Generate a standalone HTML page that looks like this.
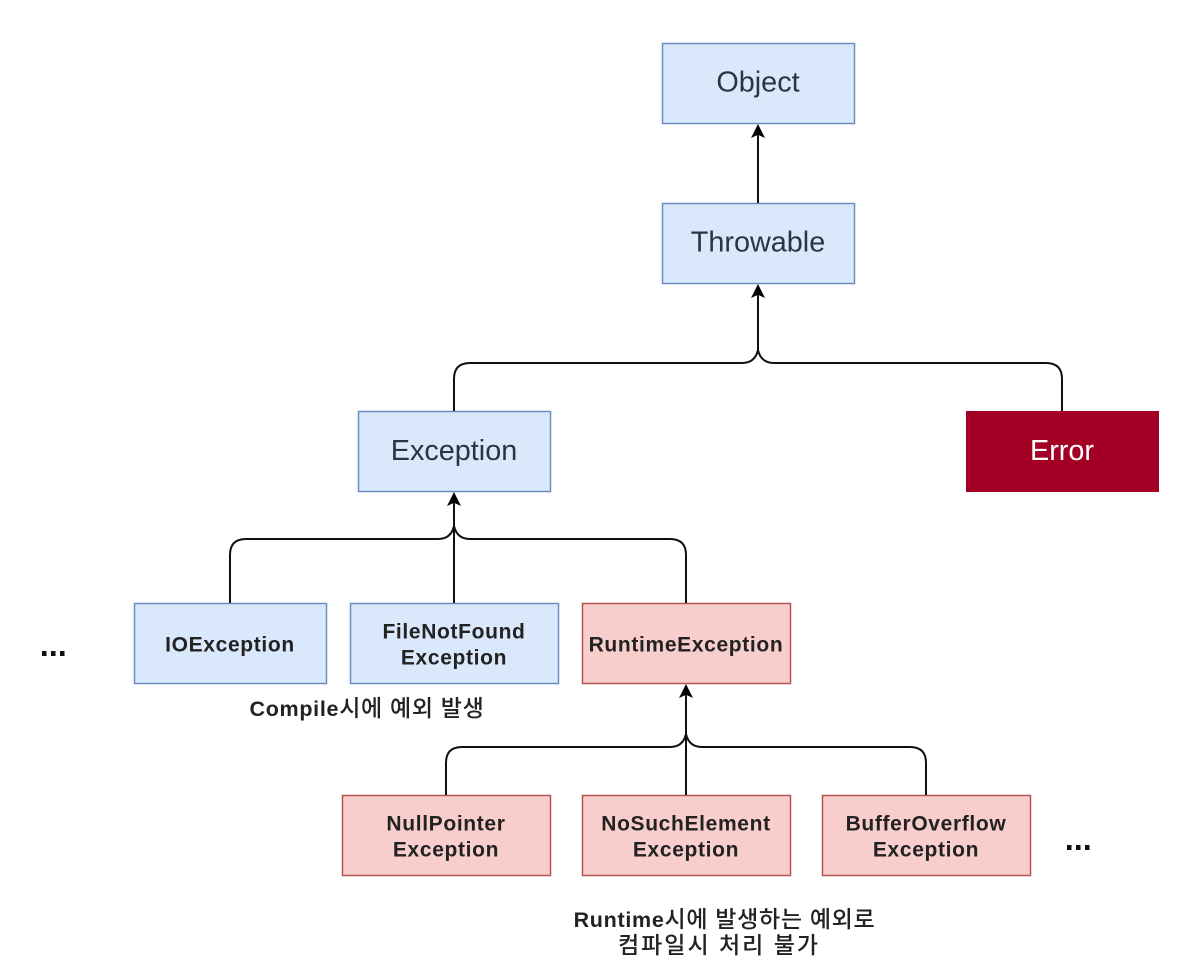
<!DOCTYPE html>
<html><head><meta charset="utf-8"><style>
html,body{margin:0;padding:0;background:#fff}
svg{display:block}
text{font-family:"Liberation Sans","Noto Sans CJK KR",sans-serif;text-anchor:middle}
.l{font-size:28.800px;fill:#2c3440}
.b{font-size:21px;font-weight:bold;fill:#222;letter-spacing:.65px}
.k{font-size:23px;font-weight:500;letter-spacing:.7px;fill:#222}
.k tspan{font-size:21.500px;font-weight:bold}
.c{stroke:#111;stroke-width:2;fill:none}
.a{fill:#000;stroke:none}
.blue{fill:#dae8fc;stroke:#6c8ebf;stroke-width:1.5}
.red{fill:#f8cecc;stroke:#b85450;stroke-width:1.5}
</style></head><body>
<svg width="1180" height="966" viewBox="0 0 1180 966" xmlns="http://www.w3.org/2000/svg">
<rect class="blue" x="662.5" y="43.5" width="192" height="80"/>
<rect class="blue" x="662.5" y="203.5" width="192" height="80"/>
<rect class="blue" x="358.5" y="411.5" width="192" height="80"/>
<rect x="966" y="411" width="193" height="81" fill="#a20025"/>
<rect class="blue" x="134.5" y="603.5" width="192" height="80"/>
<rect class="blue" x="350.5" y="603.5" width="208" height="80"/>
<rect class="red" x="582.5" y="603.5" width="208" height="80"/>
<rect class="red" x="342.5" y="795.5" width="208" height="80"/>
<rect class="red" x="582.5" y="795.5" width="208" height="80"/>
<rect class="red" x="822.5" y="795.5" width="208" height="80"/>

<path class="c" d="M758 203V132"/>
<path class="a" d="M758 124l7 14-7-3.200-7 3.200z"/>
<path class="c" d="M758 350V292"/>
<path class="a" d="M758 284l7 14-7-3.200-7 3.200z"/>
<path class="c" d="M454 411V379Q454 363 470 363H742Q755 363 758 350Q761 363 774 363H1046Q1062 363 1062 379V411"/>
<path class="c" d="M454 603V500"/>
<path class="a" d="M454 492l7 14-7-3.200-7 3.200z"/>
<path class="c" d="M230 603V555Q230 539 246 539H438Q451 539 454 526Q457 539 470 539H670Q686 539 686 555V603"/>
<path class="c" d="M686 795V692"/>
<path class="a" d="M686 684l7 14-7-3.200-7 3.200z"/>
<path class="c" d="M446 795V763Q446 747 462 747H670Q683 747 686 734Q689 747 702 747H910Q926 747 926 763V795"/>

<text class="l" x="758" y="91.500">Object</text>
<text class="l" x="758" y="251.500">Throwable</text>
<text class="l" x="454" y="460">Exception</text>
<text class="l" x="1062" y="460" style="fill:#fff">Error</text>
<text class="b" x="230" y="651.500">IOException</text>
<text class="b" x="454" y="638.500">FileNotFound</text>
<text class="b" x="454" y="664.500">Exception</text>
<text class="b" x="686" y="651.500">RuntimeException</text>
<text class="b" x="446" y="830.500">NullPointer</text>
<text class="b" x="446" y="856.500">Exception</text>
<text class="b" x="686" y="830.500">NoSuchElement</text>
<text class="b" x="686" y="856.500">Exception</text>
<text class="b" x="926" y="830.500">BufferOverflow</text>
<text class="b" x="926" y="856.500">Exception</text>
<text class="k" x="367" y="716"><tspan>Compile</tspan>시에 예외 발생</text>
<text class="k" x="724.500" y="927"><tspan>Runtime</tspan>시에 발생하는 예외로</text>
<text class="k" x="719" y="953" style="letter-spacing:2px">컴파일시 처리 불가</text>
<g fill="#111">
<rect x="42" y="651" width="4.500" height="5"/><rect x="51" y="651" width="4.500" height="5"/><rect x="60" y="651" width="4.500" height="5"/>
<rect x="1067" y="845" width="4.500" height="5"/><rect x="1076" y="845" width="4.500" height="5"/><rect x="1085" y="845" width="4.500" height="5"/>
</g>
</svg>
</body></html>
